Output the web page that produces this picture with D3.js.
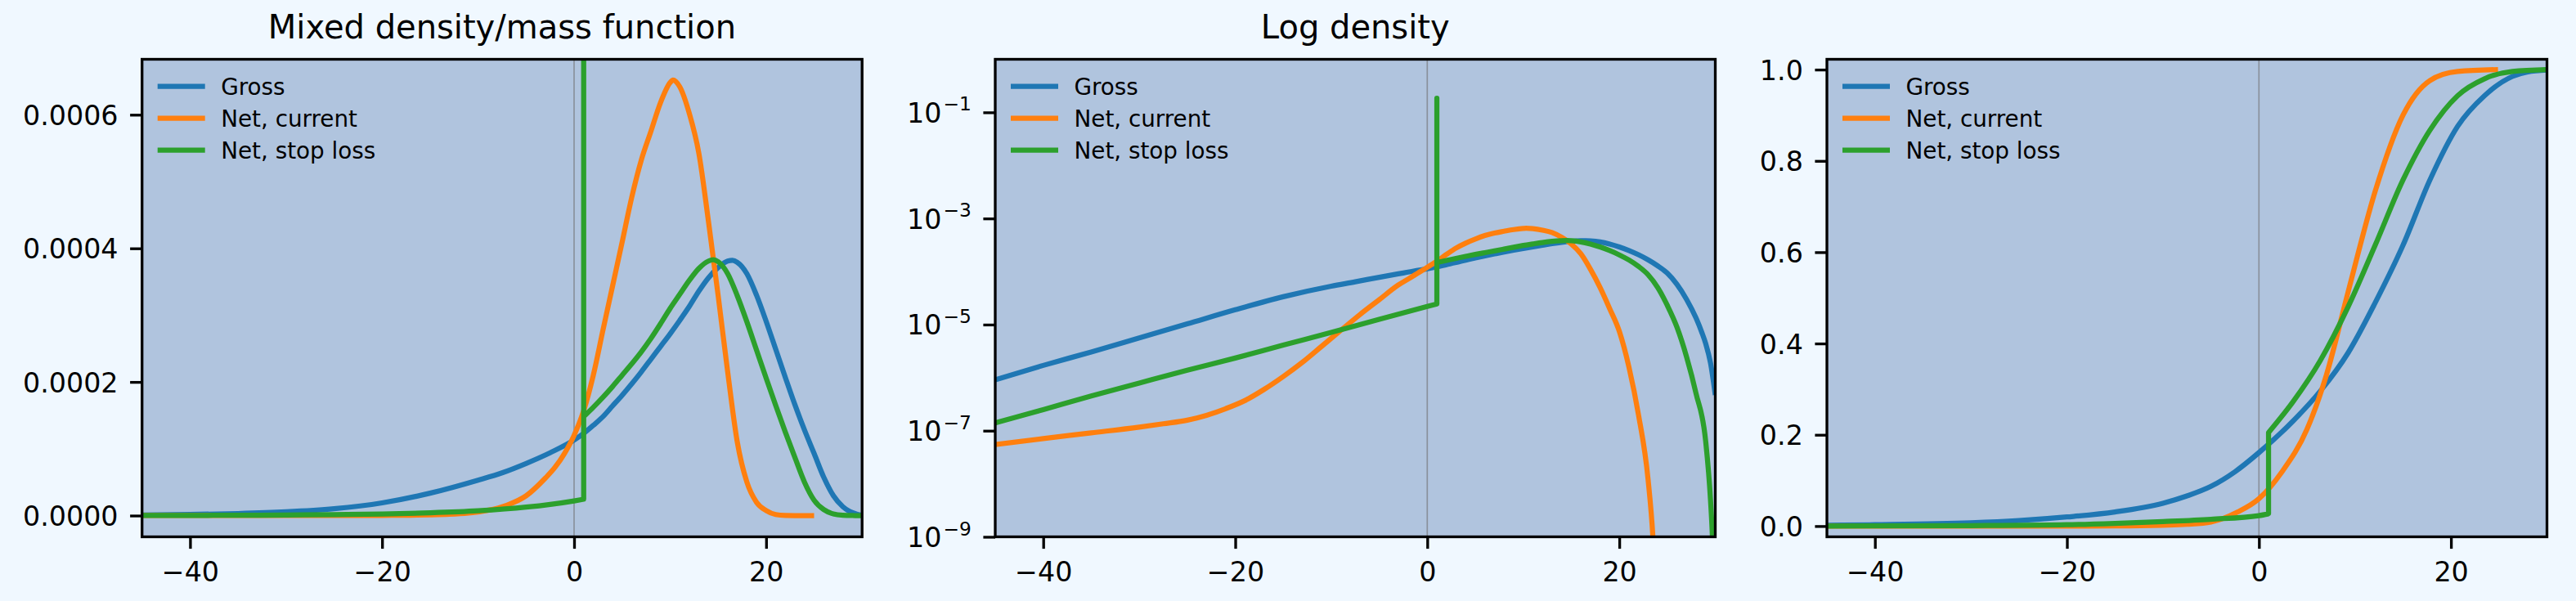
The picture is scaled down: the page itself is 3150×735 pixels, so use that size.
<!DOCTYPE html>
<html><head><meta charset="utf-8">
<script src="https://cdn.jsdelivr.net/npm/d3@7/dist/d3.min.js"></script>
<style>body{margin:0;background:#F0F8FF;} svg{display:block;}</style>
</head><body>
<svg id="chart" width="3150" height="735"></svg>
<script>
// ---------------- data ----------------
const seriesNames = ["Gross", "Net, current", "Net, stop loss"];
const seriesColors = ["#1f77b4", "#ff7f0e", "#2ca02c"];
const titles = ["Mixed density/mass function", "Log density", ""];
const xTicks = [-40, -20, 0, 20];
const densityTicks = [0, 0.0002, 0.0004, 0.0006];
const logTickExponents = [-1, -3, -5, -7, -9];
const cdfTicks = [0, 0.2, 0.4, 0.6, 0.8, 1.0];

// density; a repeated x marks the point mass of the stop loss
const grossDensityX = [-45,-40,-35,-30,-25,-20,-15,-10,-7.5,-5,-2.5,0,1,2,3,4,5,6,7,8,9,10,11,12,13,14,15,16,16.5,17,18,19,20,21,22,23,24,25,26,27,28,28.6,29,29.5,30];
const grossDensity  = [9.1e-7,1.7e-6,3.05e-6,5.6e-6,1.03e-5,1.9e-5,3.35e-5,5.3e-5,6.4e-5,7.8e-5,9.4e-5,1.13e-4,1.23e-4,1.35e-4,1.48e-4,1.64e-4,1.80e-4,1.97e-4,2.15e-4,2.34e-4,2.53e-4,2.72e-4,2.92e-4,3.13e-4,3.36e-4,3.56e-4,3.71e-4,3.81e-4,3.82e-4,3.79e-4,3.62e-4,3.30e-4,2.91e-4,2.49e-4,2.07e-4,1.66e-4,1.28e-4,9.3e-5,5.75e-5,3.0e-5,1.32e-5,7.1e-6,4.4e-6,1.9e-6,4.7e-7];

const currentDensityX = [-45,-40,-35,-30,-27.5,-25,-23,-21,-19,-17,-15,-13,-11,-9,-7,-5,-3,-2,-1,0,1,2,3,4,5,6,7,8,9,10,10.3,11,12,13,14,15,16,17,18,19,20,21,22,23,23.5,24,25];
const currentDensity  = [5.5e-8,7.1e-8,9.1e-8,1.17e-7,1.35e-7,1.58e-7,1.95e-7,2.6e-7,3.7e-7,6.0e-7,1.05e-6,1.95e-6,3.9e-6,7.8e-6,1.55e-5,2.95e-5,5.6e-5,7.2e-5,9.3e-5,1.2e-4,1.57e-4,2.1e-4,2.77e-4,3.43e-4,4.09e-4,4.76e-4,5.32e-4,5.75e-4,6.18e-4,6.48e-4,6.52e-4,6.42e-4,6.02e-4,5.42e-4,4.4e-4,3.3e-4,2.15e-4,1.1e-4,5.0e-5,2.0e-5,7.5e-6,1.6e-6,2e-7,1.2e-8,1e-9,1e-11,1e-13];

const stopDensityX = [-45,-40,-35,-30,-25,-20,-15,-10,-5,0,1,1,1,2,3,4,5,6,7,8,9,10,11,12,13,14,14.5,15,16,17,18,19,20,21,22,23,24,25,26,27,28,29,29.5,29.7,30];
const stopDensity  = [1.4e-7,2.5e-7,4.5e-7,7.9e-7,1.38e-6,2.34e-6,4.1e-6,7.1e-6,1.26e-5,2.2e-5,2.45e-5,0.185,1.48e-4,1.62e-4,1.77e-4,1.93e-4,2.1e-4,2.27e-4,2.45e-4,2.65e-4,2.87e-4,3.1e-4,3.31e-4,3.52e-4,3.7e-4,3.81e-4,3.83e-4,3.80e-4,3.62e-4,3.29e-4,2.90e-4,2.48e-4,2.06e-4,1.65e-4,1.25e-4,8.7e-5,5.0e-5,2.3e-5,9e-6,2.5e-6,5e-7,6.3e-8,5e-9,1e-9,1e-11];

// cumulative distribution
const grossCdfX = [-45,-40,-30,-25,-20,-15,-10,-7.5,-5,-2.5,0,3.5,6.4,9.3,12.1,15,17.8,20.7,23.5,26.4,28,30];
const grossCdf  = [0.002,0.003,0.007,0.012,0.02,0.031,0.05,0.066,0.087,0.119,0.161,0.229,0.296,0.38,0.489,0.615,0.758,0.876,0.943,0.985,0.995,0.999];

const currentCdfX = [-45,-20,-15,-10,-7.5,-5,-2.2,0,2.4,5,7,9.3,12.1,15,17.8,20.7,24.9];
const currentCdf  = [0,0,0.0003,0.002,0.004,0.009,0.031,0.06,0.119,0.212,0.329,0.514,0.733,0.90,0.976,0.996,1.0];

const stopCdfX = [-45,-30,-20,-15,-10,-5,0,1,1,3.5,6.4,9.3,12.1,15,17.8,20.7,23.5,26.4,30];
const stopCdf  = [0,0.001,0.003,0.006,0.01,0.015,0.023,0.027,0.205,0.271,0.363,0.481,0.615,0.758,0.867,0.943,0.98,0.996,1.0];

// ---------------- layout ----------------
const svg = d3.select("#chart");
svg.append("rect").attr("width",3150).attr("height",735).attr("fill","#F0F8FF");
const TOP = 72.5, BOTTOM = 656.5;
const panelLefts = [173.7, 1217, 2234];
const panelWidth = 880.5;
const FONT = "DejaVu Sans, Liberation Sans, sans-serif";
const TICK_FS = 33.3, LEG_FS = 27.8, TITLE_FS = 40;
const LW = 6.25, SPINE = 3.33, TICKLEN = 14.6;

const densitySeries = [
  {x: grossDensityX, y: grossDensity},
  {x: currentDensityX, y: currentDensity},
  {x: stopDensityX, y: stopDensity}];
const cdfSeries = [
  {x: grossCdfX, y: grossCdf},
  {x: currentCdfX, y: currentCdf},
  {x: stopCdfX, y: stopCdf}];

function pathFor(xs, ys, sx, sy) {
  const pts = xs.map((x, i) => [sx(x), sy(ys[i])]);
  const runs = [[pts[0]]];
  for (let i = 1; i < pts.length; i++) {
    if (xs[i] === xs[i-1]) runs.push([pts[i]]);
    else runs[runs.length-1].push(pts[i]);
  }
  const gen = d3.line().curve(d3.curveMonotoneX);
  let d = "";
  runs.forEach((r, k) => {
    let s = r.length === 1 ? `M${r[0][0]},${r[0][1]}` : gen(r);
    if (k > 0) s = "L" + s.slice(1);
    d += s;
  });
  return d;
}

const panels = [
  {kind: "lin", domainY: [-0.0000318, 0.000683], data: densitySeries},
  {kind: "log", domainY: [1e-9, 1], data: densitySeries},
  {kind: "cdf", domainY: [-0.0235, 1.0226], data: cdfSeries}];

panels.forEach((p, pi) => {
  const L = panelLefts[pi], R = L + panelWidth;
  const g = svg.append("g");
  const sx = d3.scaleLinear().domain([-45, 30]).range([L, R]);
  const sy = (p.kind === "log" ? d3.scaleLog() : d3.scaleLinear()).domain(p.domainY).range([BOTTOM, TOP]);

  g.append("rect").attr("x", L).attr("y", TOP).attr("width", R-L).attr("height", BOTTOM-TOP).attr("fill", "#B0C4DE");
  const clipId = "clip" + pi;
  svg.append("clipPath").attr("id", clipId).append("rect").attr("x", L).attr("y", TOP).attr("width", R-L).attr("height", BOTTOM-TOP);
  const plot = g.append("g").attr("clip-path", `url(#${clipId})`);

  plot.append("line").attr("x1", sx(0)).attr("x2", sx(0)).attr("y1", TOP).attr("y2", BOTTOM)
    .attr("stroke", "#707070").attr("stroke-width", 1.7).attr("stroke-opacity", 0.6);

  p.data.forEach((s, si) => {
    plot.append("path").attr("d", pathFor(s.x, s.y, sx, sy))
      .attr("fill", "none").attr("stroke", seriesColors[si]).attr("stroke-width", LW)
      .attr("stroke-linejoin", "round");
  });

  const xAxis = d3.axisBottom(sx).tickValues(xTicks).tickSize(TICKLEN).tickPadding(14.6)
    .tickFormat(d => d < 0 ? "\u2212" + Math.abs(d) : String(d));
  const xa = g.append("g").attr("transform", `translate(0,${BOTTOM})`).call(xAxis);
  xa.select(".domain").remove();
  xa.selectAll("line").attr("stroke", "#000").attr("stroke-width", SPINE);
  xa.selectAll("text").attr("font-family", FONT).attr("font-size", TICK_FS).attr("fill", "#000").attr("dy", "0.76em");

  let yAxis;
  if (p.kind === "lin") yAxis = d3.axisLeft(sy).tickValues(densityTicks).tickFormat(d3.format(".4f"));
  else if (p.kind === "cdf") yAxis = d3.axisLeft(sy).tickValues(cdfTicks).tickFormat(d3.format(".1f"));
  else yAxis = d3.axisLeft(sy).tickValues(logTickExponents.map(e => Math.pow(10, e))).tickFormat("");
  yAxis.tickSize(TICKLEN).tickPadding(14.6);
  const ya = g.append("g").attr("transform", `translate(${L},0)`).call(yAxis);
  ya.select(".domain").remove();
  ya.selectAll("line").attr("stroke", "#000").attr("stroke-width", SPINE);
  ya.selectAll("text").attr("font-family", FONT).attr("font-size", TICK_FS).attr("fill", "#000").attr("dy", "0.36em");
  if (p.kind === "log") {
    logTickExponents.forEach(e => {
      const t = g.append("text").attr("x", L - 29.2).attr("y", sy(Math.pow(10, e)) + 12.5)
        .attr("text-anchor", "end").attr("font-family", FONT).attr("fill", "#000");
      t.append("tspan").attr("font-size", TICK_FS).text("10");
      t.append("tspan").attr("font-size", 23.3).attr("dy", -14.5).attr("dx", 2).text("\u2212" + Math.abs(e));
    });
  }

  g.append("rect").attr("x", L).attr("y", TOP).attr("width", R-L).attr("height", BOTTOM-TOP)
    .attr("fill", "none").attr("stroke", "#000").attr("stroke-width", SPINE);

  seriesNames.forEach((name, si) => {
    const yy = TOP + 33.2 + si * 39;
    g.append("line").attr("x1", L + 19).attr("x2", L + 77).attr("y1", yy).attr("y2", yy)
      .attr("stroke", seriesColors[si]).attr("stroke-width", LW);
    g.append("text").attr("x", L + 96.5).attr("y", yy + 10).attr("font-family", FONT)
      .attr("font-size", LEG_FS).attr("fill", "#000").text(name);
  });

  if (titles[pi]) {
    g.append("text").attr("x", (L + R) / 2).attr("y", 47).attr("text-anchor", "middle")
      .attr("font-family", FONT).attr("font-size", TITLE_FS).attr("fill", "#000").text(titles[pi]);
  }
});
</script>
</body></html>
